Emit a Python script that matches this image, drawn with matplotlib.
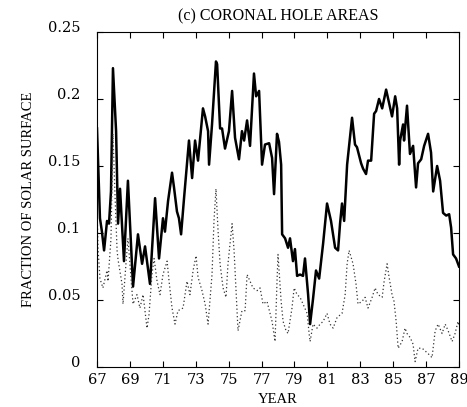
import numpy as np
import matplotlib
matplotlib.use('Agg')
import matplotlib.pyplot as plt
import matplotlib.transforms as mtransforms

# coronal hole area, fraction of solar surface
years_total = [67.00, 67.18, 67.30, 67.43, 67.61, 67.73, 67.85, 67.97, 68.16, 68.28,
               68.40, 68.64, 68.88, 69.19, 69.49, 69.74, 69.92, 70.22, 70.53, 70.77,
               71.01, 71.13, 71.32, 71.56, 71.68, 71.86, 71.98, 72.11, 72.29, 72.59,
               72.78, 72.96, 73.14, 73.44, 73.57, 73.75, 73.81, 73.99, 74.23, 74.30,
               74.48, 74.60, 74.78, 75.02, 75.21, 75.39, 75.63, 75.81, 75.94, 76.12,
               76.30, 76.54, 76.67, 76.85, 77.03, 77.21, 77.46, 77.64, 77.76, 77.94,
               78.06, 78.19, 78.25, 78.43, 78.61, 78.73, 78.91, 79.03, 79.16, 79.34,
               79.52, 79.64, 79.83, 79.95, 80.13, 80.31, 80.50, 80.74, 80.98, 81.22,
               81.47, 81.65, 81.77, 81.89, 82.02, 82.20, 82.50, 82.68, 82.80, 83.05,
               83.17, 83.35, 83.47, 83.66, 83.84, 83.96, 84.14, 84.33, 84.57, 84.75,
               84.93, 85.12, 85.24, 85.36, 85.42, 85.60, 85.66, 85.84, 86.02, 86.21,
               86.39, 86.51, 86.70, 86.88, 87.12, 87.30, 87.43, 87.67, 87.85, 88.03,
               88.22, 88.40, 88.52, 88.64, 88.82, 89.00]
area_total = [0.178, 0.111, 0.101, 0.087, 0.109, 0.107, 0.131, 0.223, 0.176, 0.107,
              0.133, 0.079, 0.139, 0.060, 0.099, 0.077, 0.090, 0.062, 0.126, 0.081,
              0.111, 0.101, 0.124, 0.145, 0.134, 0.116, 0.111, 0.099, 0.126, 0.169,
              0.141, 0.169, 0.154, 0.193, 0.187, 0.176, 0.151, 0.181, 0.228, 0.226,
              0.178, 0.178, 0.163, 0.176, 0.206, 0.171, 0.155, 0.176, 0.169, 0.184,
              0.165, 0.219, 0.202, 0.206, 0.151, 0.166, 0.167, 0.156, 0.129, 0.174,
              0.168, 0.151, 0.099, 0.096, 0.089, 0.096, 0.079, 0.088, 0.068, 0.069,
              0.068, 0.081, 0.054, 0.032, 0.051, 0.072, 0.066, 0.092, 0.122, 0.109,
              0.089, 0.087, 0.107, 0.122, 0.109, 0.151, 0.186, 0.166, 0.164, 0.152,
              0.148, 0.144, 0.154, 0.154, 0.189, 0.191, 0.200, 0.193, 0.207, 0.197,
              0.187, 0.202, 0.193, 0.151, 0.169, 0.181, 0.169, 0.195, 0.159, 0.165,
              0.134, 0.152, 0.155, 0.165, 0.174, 0.160, 0.131, 0.150, 0.139, 0.115,
              0.113, 0.114, 0.104, 0.084, 0.081, 0.075]

years_dotted = [67.00, 67.06, 67.18, 67.36, 67.61, 67.67, 67.85, 67.97, 68.09, 68.22,
                68.28, 68.52, 68.58, 68.76, 68.88, 69.07, 69.19, 69.43, 69.61, 69.80,
                70.04, 70.16, 70.34, 70.47, 70.65, 70.83, 71.01, 71.26, 71.38, 71.56,
                71.74, 71.92, 72.23, 72.47, 72.65, 72.84, 73.02, 73.14, 73.38, 73.57,
                73.75, 73.99, 74.11, 74.23, 74.36, 74.48, 74.66, 74.84, 74.96, 75.21,
                75.33, 75.45, 75.57, 75.81, 76.00, 76.12, 76.30, 76.48, 76.73, 76.91,
                77.09, 77.33, 77.64, 77.82, 77.94, 78.00, 78.19, 78.31, 78.49, 78.61,
                78.85, 78.98, 79.16, 79.34, 79.52, 79.77, 79.89, 79.95, 80.13, 80.37,
                80.56, 80.74, 80.98, 81.16, 81.35, 81.59, 81.89, 82.08, 82.20, 82.32,
                82.56, 82.74, 82.86, 83.11, 83.29, 83.47, 83.72, 83.90, 84.08, 84.33,
                84.45, 84.63, 84.75, 84.93, 85.05, 85.18, 85.30, 85.54, 85.72, 85.84,
                86.03, 86.21, 86.33, 86.51, 86.76, 86.94, 87.12, 87.36, 87.55, 87.73,
                87.97, 88.16, 88.34, 88.58, 88.76, 88.94, 89.00]
area_dotted = [0.120, 0.089, 0.066, 0.059, 0.072, 0.064, 0.096, 0.174, 0.130, 0.087,
               0.080, 0.062, 0.047, 0.077, 0.096, 0.066, 0.047, 0.054, 0.044, 0.054,
               0.029, 0.039, 0.069, 0.081, 0.064, 0.054, 0.069, 0.079, 0.064, 0.044,
               0.032, 0.042, 0.044, 0.064, 0.054, 0.072, 0.083, 0.067, 0.057, 0.047,
               0.032, 0.069, 0.109, 0.133, 0.101, 0.077, 0.059, 0.052, 0.077, 0.107,
               0.087, 0.057, 0.027, 0.042, 0.042, 0.069, 0.064, 0.059, 0.057, 0.059,
               0.047, 0.049, 0.034, 0.019, 0.064, 0.084, 0.049, 0.034, 0.027, 0.025,
               0.044, 0.059, 0.054, 0.052, 0.047, 0.040, 0.025, 0.019, 0.032, 0.029,
               0.032, 0.034, 0.040, 0.032, 0.029, 0.037, 0.040, 0.054, 0.077, 0.087,
               0.077, 0.062, 0.047, 0.049, 0.052, 0.044, 0.052, 0.059, 0.054, 0.052,
               0.064, 0.077, 0.067, 0.054, 0.049, 0.034, 0.014, 0.019, 0.029, 0.025,
               0.022, 0.017, 0.004, 0.014, 0.014, 0.012, 0.010, 0.007, 0.027, 0.032,
               0.025, 0.032, 0.027, 0.019, 0.025, 0.034, 0.030]

xticks = list(range(67, 90, 2))
yticks = [0, 0.05, 0.1, 0.15, 0.2, 0.25]
ytick_labels = ['0', '0.05', '0.1', '0.15', '0.2', '0.25']

plt.rcParams['font.family'] = ['Liberation Serif', 'DejaVu Serif']

fig = plt.figure(figsize=(4.67, 4.07), dpi=100)
ax = fig.add_axes([0.2077, 0.0983, 0.7752, 0.8231])

ax.plot(years_total, area_total, color='black', linewidth=1.8,
        solid_joinstyle='round')
ax.plot(years_dotted, area_dotted, color='#333333', linewidth=0.9, linestyle=(0, (1, 2)))

ax.set_xlim(67, 89)
ax.set_ylim(0, 0.25)
ax.set_xticks(xticks)
ax.set_yticks(yticks)
ax.set_yticklabels(ytick_labels)
ax.tick_params(direction='in', length=4, width=0.8, top=True, right=True)
ax.tick_params(axis='x', pad=4)
ax.tick_params(axis='y', pad=12)
for lab in ax.get_xticklabels() + ax.get_yticklabels():
    lab.set_fontfamily('DejaVu Serif')
    lab.set_fontsize(10.5)
# y tick numbers sit a little above their ticks in the original
shift = mtransforms.ScaledTranslation(0, 0.05, fig.dpi_scale_trans)
for lab in ax.get_yticklabels():
    lab.set_transform(lab.get_transform() + shift)
for s in ax.spines.values():
    s.set_linewidth(0.8)

ax.set_title('(c) CORONAL HOLE AREAS', fontsize=11.5, pad=8)
ax.set_xlabel('YEAR', fontsize=10.5, labelpad=5)
ax.set_ylabel('FRACTION OF SOLAR SURFACE', fontsize=10.5, labelpad=9)

fig.savefig('out.png', dpi=100)
